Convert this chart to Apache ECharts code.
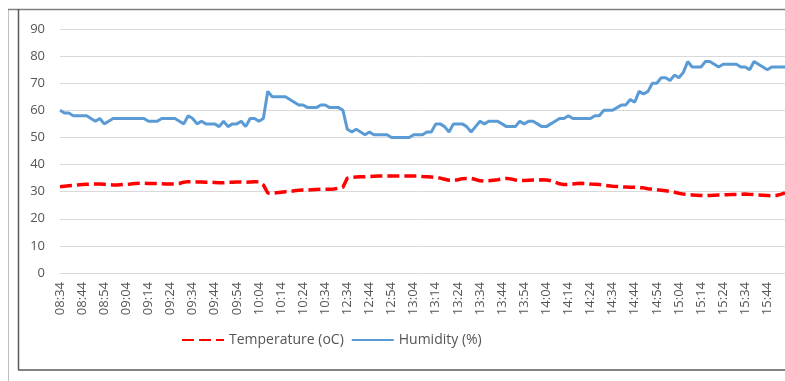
<!DOCTYPE html>
<html>
<head>
<meta charset="utf-8">
<script src="https://cdn.jsdelivr.net/npm/echarts@6/dist/echarts.min.js"></script>
<style>
html,body{margin:0;padding:0;background:#fff;}
#c{width:785px;height:381px;}
</style>
</head>
<body>
<div id="c"></div>
<script>
var times = [
"08:34","08:36","08:38","08:40","08:42","08:44","08:46","08:48","08:50","08:52",
"08:54","08:56","08:58","09:00","09:02","09:04","09:06","09:08","09:10","09:12",
"09:14","09:16","09:18","09:20","09:22","09:24","09:26","09:28","09:30","09:32",
"09:34","09:36","09:38","09:40","09:42","09:44","09:46","09:48","09:50","09:52",
"09:54","09:56","09:58","10:00","10:02","10:04","10:06","10:08","10:10","10:12",
"10:14","10:16","10:18","10:20","10:22","10:24","10:26","10:28","10:30","10:32",
"10:34","10:36","10:38","10:40","10:42",
"12:34","12:36","12:38","12:40","12:42","12:44","12:46","12:48","12:50","12:52",
"12:54","12:56","12:58","13:00","13:02","13:04","13:06","13:08","13:10","13:12",
"13:14","13:16","13:18","13:20","13:22","13:24","13:26","13:28","13:30","13:32",
"13:34","13:36","13:38","13:40","13:42","13:44","13:46","13:48","13:50","13:52",
"13:54","13:56","13:58","14:00","14:02","14:04","14:06","14:08","14:10","14:12",
"14:14","14:16","14:18","14:20","14:22","14:24","14:26","14:28","14:30","14:32",
"14:34","14:36","14:38","14:40","14:42","14:44","14:46","14:48","14:50","14:52",
"14:54","14:56","14:58","15:00","15:02","15:04","15:06","15:08","15:10","15:12",
"15:14","15:16","15:18","15:20","15:22","15:24","15:26","15:28","15:30","15:32",
"15:34","15:36","15:38","15:40","15:42","15:44","15:46","15:48","15:50","15:52"
];

var temperature = [
31.8,32.0,32.2,32.3,32.5,32.6,32.7,32.8,32.8,32.8,
32.7,32.6,32.5,32.5,32.6,32.7,32.8,33.0,33.1,33.1,
33.0,33.0,33.0,32.9,32.8,32.8,32.8,33.0,33.5,33.7,
33.7,33.6,33.6,33.5,33.5,33.4,33.3,33.3,33.4,33.5,
33.6,33.6,33.5,33.6,33.7,33.6,32.5,29.5,29.4,29.6,
29.8,30.0,30.1,30.3,30.5,30.6,30.6,30.7,30.8,30.9,
30.9,30.9,31.0,31.3,31.6,35.0,35.3,35.4,35.5,35.5,
35.6,35.7,35.8,35.8,35.8,35.8,35.8,35.8,35.8,35.8,
35.8,35.8,35.6,35.5,35.4,35.2,35.0,34.6,34.2,34.1,
34.4,34.8,34.9,34.9,34.5,34.0,33.9,34.0,34.2,34.4,
34.7,34.9,34.7,34.3,34.1,34.1,34.2,34.3,34.3,34.4,
34.3,34.0,33.5,32.9,32.6,32.7,32.8,33.0,33.1,33.0,
32.8,32.7,32.6,32.4,32.2,32.0,31.9,31.8,31.7,31.6,
31.6,31.5,31.4,31.1,30.9,30.7,30.5,30.3,30.1,29.8,
29.4,29.1,28.9,28.8,28.7,28.6,28.5,28.6,28.7,28.8,
28.8,28.9,29.0,29.0,29.0,29.1,29.0,28.9,28.8,28.7,
28.6,28.5,28.6,29.0,29.5
];

var humidity = [
60,59,59,58,58,58,58,57,56,57,
55,56,57,57,57,57,57,57,57,57,
56,56,56,57,57,57,57,56,55,58,
57,55,56,55,55,55,54,56,54,55,
55,56,54,57,57,56,57,67,65,65,
65,65,64,63,62,62,61,61,61,62,
62,61,61,61,60,53,52,53,52,51,
52,51,51,51,51,50,50,50,50,50,
51,51,51,52,52,55,55,54,52,55,
55,55,54,52,54,56,55,56,56,56,
55,54,54,54,56,55,56,56,55,54,
54,55,56,57,57,58,57,57,57,57,
57,58,58,60,60,60,61,62,62,64,
63,67,66,67,70,70,72,72,71,73,
72,74,78,76,76,76,78,78,77,76,
77,77,77,77,76,76,75,78,77,76,
75,76,76,76,76
];

var seriesNames = ["Temperature (oC)", "Humidity (%)"];
var yTicks = {min: 0, max: 90, interval: 10};

var chart = echarts.init(document.getElementById('c'), null, {renderer: 'canvas'});
var font = '"Open Sans", "Liberation Sans", sans-serif';
var txt = '#555555';
chart.setOption({
  animation: false,
  backgroundColor: '#ffffff',
  textStyle: {fontFamily: font},
  graphic: [
    {type: 'line', shape: {x1: 8.5, y1: 9, x2: 8.5, y2: 381}, style: {stroke: '#bfbfbf', lineWidth: 1}},
    {type: 'line', shape: {x1: 8, y1: 9.5, x2: 785, y2: 9.5}, style: {stroke: '#7f7f7f', lineWidth: 1.5}},
    {type: 'line', shape: {x1: 18.5, y1: 9, x2: 18.5, y2: 370}, style: {stroke: '#595959', lineWidth: 1.5}},
    {type: 'line', shape: {x1: 18, y1: 370, x2: 785, y2: 370}, style: {stroke: '#595959', lineWidth: 1.5}}
  ],
  grid: {left: 60, right: 0, top: 29, bottom: 108, containLabel: false},
  legend: {
    left: 176, top: 328,
    itemWidth: 42, itemHeight: 14, itemGap: 7,
    itemStyle: {opacity: 0},
    textStyle: {fontFamily: font, fontSize: 14, color: txt},
    data: seriesNames
  },
  xAxis: {
    type: 'category',
    data: times,
    boundaryGap: false,
    axisLine: {lineStyle: {color: '#d9d9d9', width: 1}},
    axisTick: {show: false},
    axisLabel: {interval: 4, rotate: 90, margin: 9, color: txt, fontSize: 13, fontFamily: font}
  },
  yAxis: {
    type: 'value',
    min: yTicks.min, max: yTicks.max, interval: yTicks.interval,
    axisLine: {show: false},
    axisTick: {show: false},
    axisLabel: {margin: 15, color: txt, fontSize: 13, fontFamily: font},
    splitLine: {lineStyle: {color: '#d9d9d9', width: 1}}
  },
  series: [
    {
      name: seriesNames[0], type: 'line', data: temperature,
      symbol: 'none', smooth: false,
      lineStyle: {color: '#ff0000', width: 3.5, type: [12, 5]},
      itemStyle: {color: '#ff0000'}
    },
    {
      name: seriesNames[1], type: 'line', data: humidity,
      symbol: 'none', smooth: false,
      lineStyle: {color: '#5b9bd5', width: 3},
      itemStyle: {color: '#5b9bd5'}
    }
  ]
});
</script>
</body>
</html>
